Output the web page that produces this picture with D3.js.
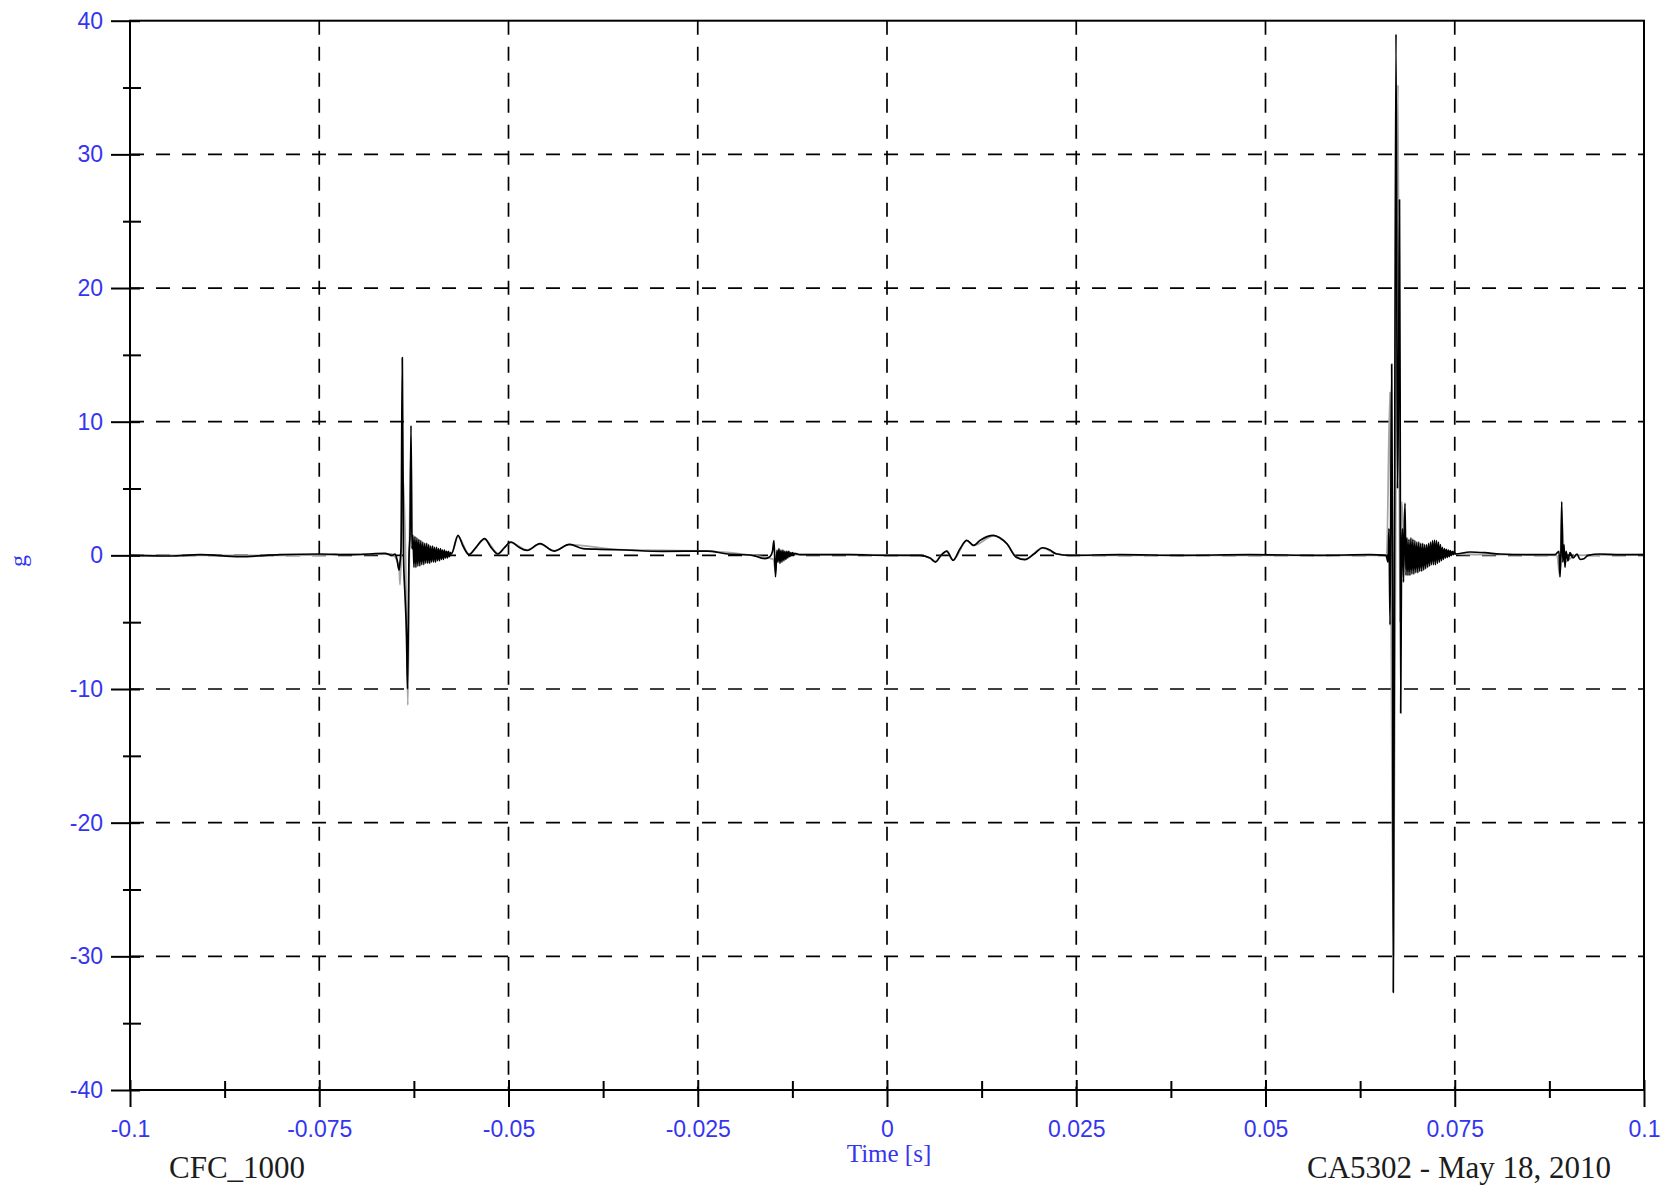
<!DOCTYPE html>
<html>
<head>
<meta charset="utf-8">
<script src="https://cdn.jsdelivr.net/npm/d3@7"></script>
<style>
  html, body { margin: 0; padding: 0; background: #ffffff; }
  svg { display: block; }
</style>
</head>
<body>
<svg id="chart" width="1676" height="1190"></svg>
<script>
// ---------------- DATA ----------------
const xTicks = [-0.1, -0.075, -0.05, -0.025, 0, 0.025, 0.05, 0.075, 0.1];
const xTickLabels = ["-0.1", "-0.075", "-0.05", "-0.025", "0", "0.025", "0.05", "0.075", "0.1"];
const xMinorTicks = [-0.0875, -0.0625, -0.0375, -0.0125, 0.0125, 0.0375, 0.0625, 0.0875];
const yTicks = [-40, -30, -20, -10, 0, 10, 20, 30, 40];
const yTickLabels = ["-40", "-30", "-20", "-10", "0", "10", "20", "30", "40"];
const yMinorTicks = [-35, -25, -15, -5, 5, 15, 25, 35];

const xAxisTitle = "Time [s]";
const yAxisTitle = "g";
const filterLabel = "CFC_1000";
const testLabel = "CA5302 - May 18, 2010";

// main (black) trace: time [s]
const timeBlack = [
  -0.1, -0.09472, -0.09075, -0.08547, -0.08018, -0.07490, -0.07094, -0.06830, -0.06631, -0.06539,
  -0.06499, -0.06473, -0.06446, -0.06433, -0.06420, -0.06403, -0.06387, -0.06367, -0.06347, -0.06334,
  -0.06314, -0.06301, -0.06288, -0.06275,
  -0.06262, -0.06249, -0.06236, -0.06223, -0.06210, -0.06197, -0.06184, -0.06171, -0.06158, -0.06145,
  -0.06132, -0.06119, -0.06106, -0.06093, -0.06080, -0.06067, -0.06054, -0.06041, -0.06028, -0.06015,
  -0.06002, -0.05989, -0.05976, -0.05963, -0.05950, -0.05937, -0.05924, -0.05911, -0.05898, -0.05885,
  -0.05872, -0.05859, -0.05846, -0.05833, -0.05820, -0.05807, -0.05794, -0.05781, -0.05768, -0.05755,
  -0.05667, -0.05601, -0.05522, -0.05429, -0.05316, -0.05231, -0.05139, -0.05059, -0.04967, -0.04861,
  -0.04756, -0.04584, -0.04399, -0.04194, -0.04016, -0.03791, -0.03546, -0.02959, -0.02365, -0.02131,
  -0.01777, -0.01612, -0.01546, -0.01513, -0.01493, -0.01473, -0.01453,
  -0.01440, -0.01427, -0.01414, -0.01401, -0.01388, -0.01375, -0.01362, -0.01349, -0.01336, -0.01323,
  -0.01310, -0.01297, -0.01284, -0.01271, -0.01258, -0.01245, -0.01232, -0.01219,
  -0.01149, -0.00489, -0.00013, 0.00436, 0.00568, 0.00641, 0.00713, 0.00789, 0.00872, 0.00965,
  0.01054, 0.01143, 0.01229, 0.01321, 0.01408, 0.01493, 0.01585, 0.01704, 0.01823, 0.01942,
  0.02057, 0.02153, 0.02232, 0.02417, 0.03078, 0.03871, 0.04795, 0.05720, 0.06380, 0.06592,
  0.06618, 0.06631, 0.06645, 0.06667, 0.06678, 0.06688, 0.06704, 0.06724, 0.06744, 0.06757,
  0.06770, 0.06779, 0.06786, 0.06797, 0.06810, 0.06823, 0.06833, 0.06843, 0.06856,
  0.06869, 0.06882, 0.06895, 0.06908, 0.06921, 0.06934, 0.06947, 0.06960, 0.06973, 0.06986,
  0.06999, 0.07012, 0.07025, 0.07038, 0.07051, 0.07064, 0.07077, 0.07090, 0.07103, 0.07116,
  0.07129, 0.07142, 0.07155, 0.07168, 0.07181, 0.07194, 0.07207, 0.07220, 0.07233, 0.07246,
  0.07259, 0.07272, 0.07285, 0.07298, 0.07311, 0.07324, 0.07337, 0.07350, 0.07363, 0.07376,
  0.07389, 0.07402, 0.07415, 0.07428, 0.07441, 0.07454, 0.07467, 0.07480, 0.07493, 0.07506,
  0.07701, 0.07900, 0.08098, 0.08494, 0.08824, 0.08877, 0.08890, 0.08904, 0.08913, 0.08927,
  0.08943, 0.08956, 0.08970, 0.08996, 0.09022, 0.09062, 0.09115, 0.09155, 0.09207, 0.09260,
  0.09419, 0.09683, 0.1
];
// main (black) trace: acceleration [g]
const gBlack = [
  0.0, -0.05, 0.05, -0.1, 0.05, 0.1, 0.05, 0.1, 0.15, 0.0,
  0.1, -0.3, -1.1, -0.5, 0.5, 14.8, 0.0, -3.0, -6.0, -10.0,
  0.0, 1.5, 9.7, 0.5,
  1.5, -0.9, 1.4, -0.9, 1.3, -0.8, 1.2, -0.8, 1.1, -0.7,
  1.0, -0.7, 0.9, -0.6, 0.9, -0.6, 0.8, -0.6, 0.7, -0.5,
  0.7, -0.5, 0.6, -0.5, 0.6, -0.4, 0.5, -0.4, 0.5, -0.3,
  0.4, -0.3, 0.4, -0.2, 0.3, -0.2, 0.3, -0.1, 0.2, 0.1,
  1.5, 0.7, 0.05, 0.6, 1.25, 0.6, 0.1, 0.55, 1.0, 0.6,
  0.37, 0.87, 0.32, 0.82, 0.5, 0.45, 0.42, 0.3, 0.32, 0.12,
  0.0, -0.25, -0.1, 0.3, 1.1, -1.6, 0.4,
  -0.5, 0.5, -0.6, 0.4, -0.5, 0.4, -0.4, 0.3, -0.3, 0.3,
  -0.2, 0.3, -0.1, 0.2, 0.0, 0.2, 0.0, 0.15,
  0.05, 0.05, 0.0, 0.0, -0.2, -0.5, 0.0, 0.32, -0.37, 0.5,
  1.12, 0.75, 1.12, 1.4, 1.5, 1.3, 0.87, -0.12, -0.32, 0.1,
  0.57, 0.4, 0.12, 0.0, 0.05, 0.0, 0.05, 0.0, 0.05, 0.0,
  -0.5, 2.0, -5.2, 14.3, 0.0, -32.7, 0.0, 39.0, 5.0, 12.0,
  26.6, 10.4, -11.8, 0.0, 2.0, -2.0, 1.5, 3.9, -1.5,
  1.3, -1.5, 1.2, -1.5, 1.3, -1.4, 1.2, -1.4, 1.1, -1.3,
  1.0, -1.3, 1.0, -1.2, 0.9, -1.2, 0.9, -1.1, 0.8, -1.0,
  0.8, -0.9, 0.9, -0.8, 1.0, -0.7, 1.1, -0.7, 1.15, -0.7,
  1.1, -0.6, 1.0, -0.5, 0.8, -0.4, 0.6, -0.3, 0.5, -0.2,
  0.45, -0.15, 0.4, -0.1, 0.35, 0.0, 0.3, 0.05, 0.3, 0.1,
  0.25, 0.2, 0.1, 0.05, 0.05, 0.3, -1.6, 0.5, 4.0, -0.5,
  0.8, -0.9, 0.3, -0.4, 0.2, -0.2, 0.1, -0.3, -0.25, 0.0,
  0.1, 0.05, 0.05
];

// second (grey) trace
const timeGray = [
  -0.1, -0.08, -0.0655, -0.06446, -0.06433, -0.06410, -0.06395, -0.06360, -0.06330, -0.06310,
  -0.06290, -0.06270, -0.062, -0.0575, -0.05667, -0.05522, -0.05316, -0.05139, -0.04967, -0.04756,
  -0.04584, -0.04399, -0.04194, -0.03546, -0.02365, -0.01777, -0.0150, -0.01473, -0.0145, -0.0120,
  -0.00489, 0.00436, 0.00568, 0.00641, 0.00713, 0.00789, 0.00872, 0.01054, 0.01143, 0.01408,
  0.01585, 0.01704, 0.01823, 0.02057, 0.02232, 0.0240,
  0.0660, 0.06645, 0.06660, 0.06690, 0.06735, 0.06750, 0.06775, 0.06800, 0.0685, 0.0700,
  0.0750, 0.0885, 0.08890, 0.08913, 0.0895, 0.0910, 0.1
];
const gGray = [
  0.0, 0.0, 0.1, -0.8, -2.2, 1.4, 6.0, 0.0, -11.2, 0.0,
  8.0, 0.5, 0.3, 0.2, 1.4, 0.1, 1.2, 0.15, 0.95, 0.4,
  0.85, 0.35, 0.8, 0.42, 0.32, 0.0, -0.3, -1.2, 0.3, 0.05,
  0.05, 0.0, -0.2, -0.45, 0.0, 0.3, -0.35, 1.1, 0.75, 1.45,
  0.85, -0.1, -0.3, 0.55, 0.12, 0.0,
  0.0, 12.2, -5.0, -30.0, 23.3, 35.2, -5.0, 4.0, -1.0, 0.3,
  0.1, 0.0, -1.6, 3.0, -0.5, 0.0, 0.05
];

// ---------------- DRAWING ----------------
const svg = d3.select("#chart");
const L = 130, R = 1644, T = 20.7, B = 1090;
const x = d3.scaleLinear().domain([-0.1, 0.1]).range([L, R]);
const y = d3.scaleLinear().domain([-40, 40]).range([B, T]);
const blue = "#3535f0";
const tickFont = "'Liberation Sans', Arial, sans-serif";
const serif = "'Liberation Serif', 'Times New Roman', serif";

svg.append("rect").attr("width", 1676).attr("height", 1190).attr("fill", "#ffffff");

// grid
const grid = svg.append("g").attr("stroke", "#000").attr("stroke-width", 1.7)
  .attr("stroke-dasharray", "14,12");
grid.selectAll("line.v").data(xTicks.slice(1, -1)).enter().append("line")
  .attr("x1", d => x(d)).attr("x2", d => x(d)).attr("y1", T).attr("y2", B);
grid.selectAll("line.h").data(yTicks.slice(1, -1)).enter().append("line")
  .attr("x1", L).attr("x2", R).attr("y1", d => y(d)).attr("y2", d => y(d));

// traces
svg.append("clipPath").attr("id", "clip").append("rect")
  .attr("x", L).attr("y", T).attr("width", R - L).attr("height", B - T);
const line = d3.line().x(d => x(d[0])).y(d => y(d[1])).curve(d3.curveMonotoneX);
const grayPts = timeGray.map((t, i) => [t, gGray[i]]);
const blackPts = timeBlack.map((t, i) => [t, gBlack[i]]);
const traces = svg.append("g").attr("clip-path", "url(#clip)");
traces.append("path").datum(grayPts).attr("d", line)
  .attr("fill", "none").attr("stroke", "#a6a6a6").attr("stroke-width", 1.8).attr("stroke-linejoin", "round");
traces.append("path").datum(blackPts).attr("d", line)
  .attr("fill", "none").attr("stroke", "#000").attr("stroke-width", 1.7).attr("stroke-linejoin", "round");

// axes
function styleAxis(g) {
  g.select(".domain").remove();
  g.selectAll(".tick line").attr("stroke", "#000").attr("stroke-width", 2);
}
const yLabelFmt = d => yTickLabels[yTicks.indexOf(d)];
const xLabelFmt = d => xTickLabels[xTicks.indexOf(d)];

svg.append("g").attr("transform", `translate(${L},0)`)
  .call(d3.axisLeft(y).tickValues(yTicks).tickSize(19).tickPadding(8).tickFormat(yLabelFmt))
  .call(styleAxis)
  .call(g => g.selectAll("text").attr("fill", blue).style("font-family", tickFont).style("font-size", "23px"));
svg.append("g").attr("transform", `translate(${L},0)`)
  .call(d3.axisRight(y).tickValues(yTicks).tickSize(10).tickFormat("")).call(styleAxis);
svg.append("g").attr("transform", `translate(${L},0)`)
  .call(d3.axisLeft(y).tickValues(yMinorTicks).tickSize(7).tickFormat("")).call(styleAxis);
svg.append("g").attr("transform", `translate(${L},0)`)
  .call(d3.axisRight(y).tickValues(yMinorTicks).tickSize(11).tickFormat("")).call(styleAxis);

svg.append("g").attr("transform", `translate(0,${B})`)
  .call(d3.axisBottom(x).tickValues(xTicks).tickSize(17).tickPadding(14).tickFormat(xLabelFmt))
  .call(styleAxis)
  .call(g => g.selectAll("text").attr("fill", blue).style("font-family", tickFont).style("font-size", "23px"));
svg.append("g").attr("transform", `translate(0,${B})`)
  .call(d3.axisTop(x).tickValues(xTicks).tickSize(10).tickFormat("")).call(styleAxis);
svg.append("g").attr("transform", `translate(0,${B})`)
  .call(d3.axisBottom(x).tickValues(xMinorTicks).tickSize(8).tickFormat("")).call(styleAxis);
svg.append("g").attr("transform", `translate(0,${B})`)
  .call(d3.axisTop(x).tickValues(xMinorTicks).tickSize(9).tickFormat("")).call(styleAxis);

// frame
svg.append("rect").attr("x", L).attr("y", T).attr("width", R - L).attr("height", B - T)
  .attr("fill", "none").attr("stroke", "#000").attr("stroke-width", 2);

// titles
svg.append("text").attr("x", 889).attr("y", 1162).attr("text-anchor", "middle")
  .attr("fill", blue).style("font-family", serif).style("font-size", "25px").text(xAxisTitle);
svg.append("text").attr("transform", "translate(26,561) rotate(-90)").attr("text-anchor", "middle")
  .attr("fill", blue).style("font-family", serif).style("font-size", "24px").text(yAxisTitle);
svg.append("text").attr("x", 169).attr("y", 1178)
  .attr("fill", "#1c1c1c").style("font-family", serif).style("font-size", "31px").text(filterLabel);
svg.append("text").attr("x", 1611).attr("y", 1178).attr("text-anchor", "end")
  .attr("fill", "#1c1c1c").style("font-family", serif).style("font-size", "31px").text(testLabel);
</script>
</body>
</html>
